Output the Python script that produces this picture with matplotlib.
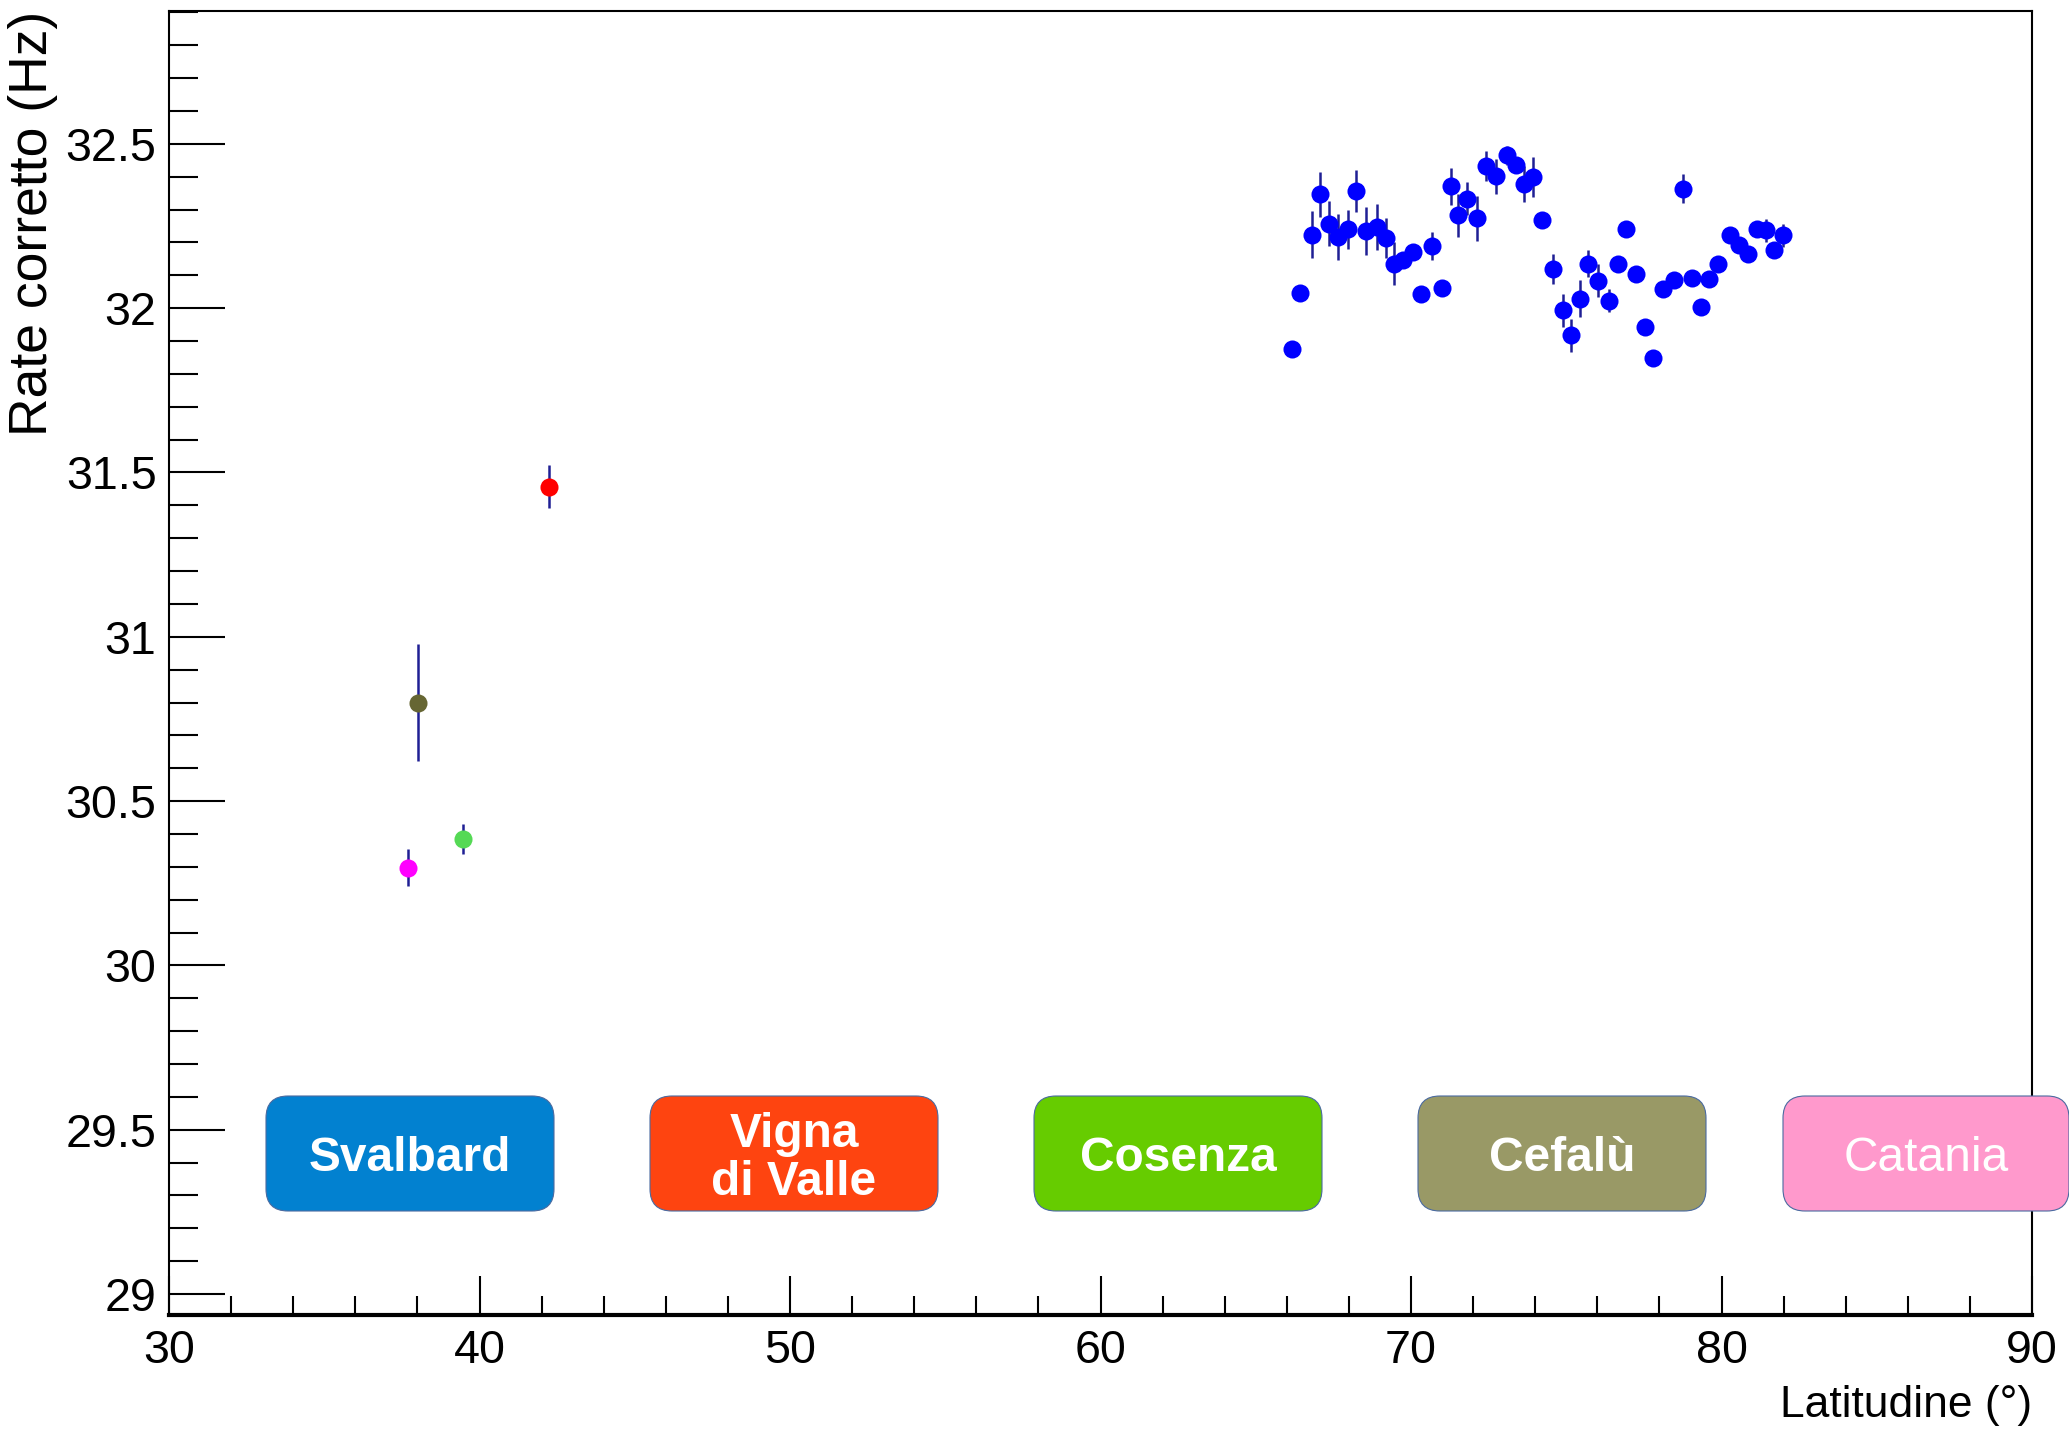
import matplotlib
matplotlib.use("Agg")
import matplotlib.pyplot as plt
from matplotlib import font_manager
from matplotlib.patches import FancyBboxPatch
from matplotlib.ticker import MultipleLocator, FormatStrFormatter
import numpy as np

# font: narrow Helvetica-like if present
nomi = {f.name for f in font_manager.fontManager.ttflist}
if "Liberation Sans Narrow" in nomi:
    FONT = "Liberation Sans Narrow"
    k = 1.0
else:
    FONT = "Liberation Sans"
    k = 0.84

# dati: latitudine, rate corretto, errore (punti blu, nave)
lat_nave = [66.16, 66.43, 66.80, 67.07, 67.37, 67.66, 67.96, 68.23, 68.55, 68.90,
            69.20, 69.46, 69.75, 70.05, 70.32, 70.69, 70.99, 71.28, 71.52, 71.81,
            72.11, 72.41, 72.75, 73.08, 73.37, 73.64, 73.94, 74.21, 74.58, 74.89,
            75.14, 75.44, 75.71, 76.01, 76.38, 76.68, 76.93, 77.25, 77.54, 77.80,
            78.10, 78.47, 78.77, 79.06, 79.33, 79.61, 79.90, 80.26, 80.55, 80.84,
            81.13, 81.43, 81.70, 81.99]
rate_nave = [31.875, 32.047, 32.224, 32.347, 32.257, 32.217, 32.240, 32.357, 32.234, 32.247,
             32.214, 32.136, 32.146, 32.171, 32.042, 32.189, 32.060, 32.371, 32.283, 32.333,
             32.273, 32.432, 32.401, 32.465, 32.435, 32.379, 32.399, 32.267, 32.120, 31.994,
             31.918, 32.029, 32.136, 32.083, 32.022, 32.136, 32.242, 32.103, 31.943, 31.849,
             32.057, 32.085, 32.364, 32.092, 32.004, 32.090, 32.136, 32.222, 32.191, 32.166,
             32.240, 32.237, 32.178, 32.222]
err_nave = [0.02, 0.02, 0.072, 0.068, 0.068, 0.07, 0.06, 0.064, 0.073, 0.07,
            0.062, 0.066, 0.02, 0.02, 0.02, 0.042, 0.02, 0.057, 0.065, 0.05,
            0.068, 0.045, 0.053, 0.03, 0.02, 0.055, 0.06, 0.02, 0.045, 0.05,
            0.05, 0.057, 0.04, 0.05, 0.035, 0.02, 0.02, 0.02, 0.02, 0.02,
            0.02, 0.02, 0.045, 0.02, 0.02, 0.02, 0.02, 0.02, 0.02, 0.02,
            0.02, 0.035, 0.02, 0.035]

# stazioni a terra
lat_staz = [37.69, 38.03, 39.48, 42.24]
rate_staz = [30.297, 30.80, 30.385, 31.457]
err_staz = [0.056, 0.177, 0.045, 0.065]
col_staz = ["#ff00ff", "#666633", "#55d955", "#ff0000"]

# etichette
etichette = ["Svalbard", "Vigna\ndi Valle", "Cosenza", "Cefalù", "Catania"]
col_etich = ["#0281d0", "#fe4410", "#66cc00", "#999966", "#ff99cc"]
peso_etich = ["bold", "bold", "bold", "bold", "normal"]

W, H = 2069, 1434
fig = plt.figure(figsize=(W / 100, H / 100), dpi=100)
ax = fig.add_axes([169 / W, (H - 1315) / H, (2032 - 169) / W, (1315 - 10.5) / H])

col_err = "#1f1f94"
ax.errorbar(lat_nave, rate_nave, yerr=err_nave, fmt="none", ecolor=col_err,
            elinewidth=1.8, capsize=0, zorder=2)
ax.plot(lat_nave, rate_nave, "o", color="#0000ff", markersize=13,
        markeredgewidth=0, zorder=3)
for x, y, e, c in zip(lat_staz, rate_staz, err_staz, col_staz):
    ax.errorbar([x], [y], yerr=[e], fmt="none", ecolor=col_err,
                elinewidth=1.8, capsize=0, zorder=2)
    ax.plot([x], [y], "o", color=c, markersize=13, markeredgewidth=0, zorder=3)

ax.set_xlim(30, 90)
ax.set_ylim(28.936, 32.906)

ax.xaxis.set_major_locator(MultipleLocator(10))
ax.xaxis.set_minor_locator(MultipleLocator(2))
ax.yaxis.set_major_locator(MultipleLocator(0.5))
ax.yaxis.set_minor_locator(MultipleLocator(0.1))
ax.yaxis.set_major_formatter(FormatStrFormatter("%g"))

ax.tick_params(axis="y", which="major", direction="in", length=40, width=1.5,
               pad=9, labelsize=40 * k)
ax.tick_params(axis="y", which="minor", direction="in", length=21, width=1.5)
ax.tick_params(axis="x", which="major", direction="in", length=28, width=1.5,
               pad=10, labelsize=40 * k)
ax.tick_params(axis="x", which="minor", direction="in", length=14, width=1.5)
for lab in ax.get_xticklabels() + ax.get_yticklabels():
    lab.set_fontfamily(FONT)

for s in ["left", "top", "right"]:
    ax.spines[s].set_linewidth(1.5)
ax.spines["bottom"].set_linewidth(3)

fig.text(33 / W, 1 - 11 / H, "Rate corretto (Hz)", rotation=90, ha="center",
         va="top", fontsize=38.5, family="Liberation Sans")
fig.text(2032 / W, 1 - 1417 / H, "Latitudine (°)", ha="right", va="baseline",
         fontsize=38 * k, family=FONT)

# riquadri delle stazioni
x_box = [266, 650, 1034, 1418, 1783]
w_box = [288, 288, 288, 288, 286]
y_box, h_box = 1211, 115
r = 22 / W
for et, c, p, x0, w in zip(etichette, col_etich, peso_etich, x_box, w_box):
    box = FancyBboxPatch((x0 / W, (H - y_box) / H), w / W, h_box / H,
                         boxstyle="round,pad=0,rounding_size=%f" % r,
                         mutation_aspect=W / H, transform=fig.transFigure,
                         facecolor=c, edgecolor="#4a6aa0", linewidth=0.8,
                         clip_on=False)
    fig.add_artist(box)
    fig.text((x0 + w / 2) / W, (H - y_box + h_box / 2 - 5) / H, et, ha="center",
             va="center", color="white", fontsize=41 * k, fontweight=p,
             family=FONT, linespacing=1.1)

fig.savefig("out.png", dpi=100)
